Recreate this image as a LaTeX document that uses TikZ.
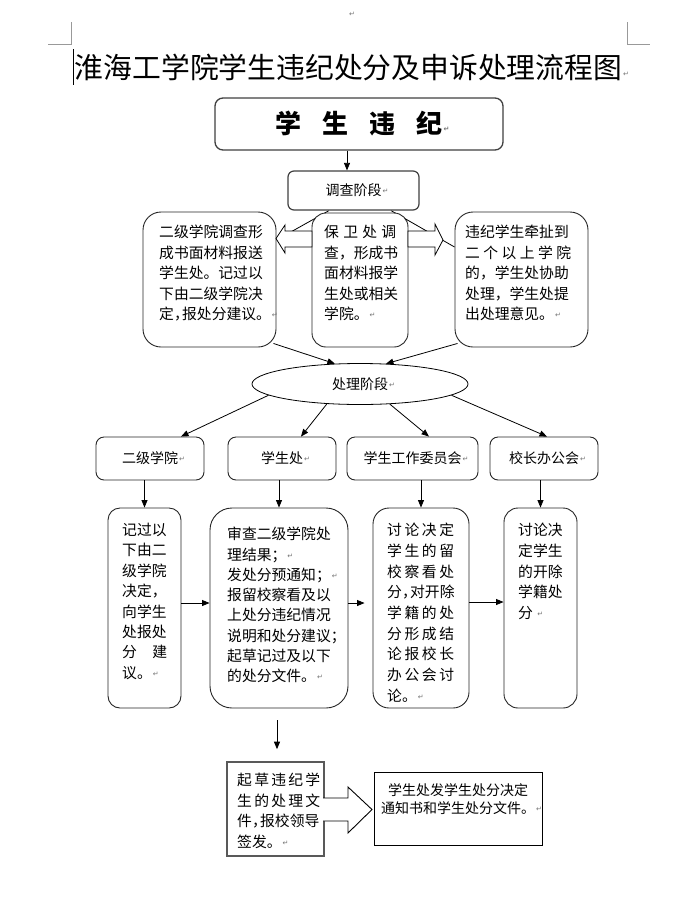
\documentclass[tikz,border=0pt]{standalone}
\usepackage{fontspec}
\newfontfamily\cjk{Noto Sans CJK SC}
\newfontfamily\dvs{DejaVu Sans}
\usetikzlibrary{shapes.geometric,arrows.meta,calc}
\pgfdeclarelayer{bg}
\pgfsetlayers{bg,main}
\newcommand\rtm{{\dvs\fontsize{7}{7}\selectfont\color{black!55}↵}}
\newcommand\rt{\rlap{\kern1pt\raisebox{2pt}{\rtm}}}
\newcommand\hw[1]{#1\kern-0.45em}
\newcommand\fs[2]{\makebox[#1][l]{#2}}
\begin{document}
\begin{tikzpicture}[x=1pt,y=-1pt,
  arr/.style={-{Triangle[length=7.5pt,width=6pt]},line width=0.8pt},
  rbox/.style={draw=black!85,line width=0.9pt,fill=white,rounded corners=#1,inner sep=0pt},
  sbox/.style={draw,fill=white,inner sep=0pt},
  txt/.style={anchor=north west,inner sep=0pt,align=left,font=\cjk\fontsize{14.8}{20.5}\selectfont},
  lbl/.style={font=\cjk\fontsize{14}{16}\selectfont},
  pagemark/.style={draw=black!40,line width=0.8pt}
]
\useasboundingbox (0,0) rectangle (684,914);

% page corner marks and cursor
\draw[pagemark] (71,22) -- (71,44) -- (48,44);
\draw[pagemark] (627,22) -- (627,44) -- (650,44);
\node[inner sep=0pt] (topmark) at (352,14) {\rtm};
\node[inner sep=0pt,font=\cjk\fontsize{28.8}{30}\selectfont] (title) at (348.5,67) {淮海工学院学生违纪处分及申诉处理流程图\rt};
\draw[line width=1.8pt] (73.5,49) -- (73.5,85);

% top box
\node[rbox=8,draw=black!75,line width=1.3pt,minimum width=288pt,minimum height=52pt,
      font=\cjk\bfseries\fontsize{26}{26}\selectfont] (b0) at (359,124)
      {学\hspace{21pt}生\hspace{21pt}违\hspace{21pt}纪\rt};
\node[rbox=6,draw=black!75,line width=1.2pt,minimum width=131pt,minimum height=39pt,lbl] (inv) at (353.5,190.5) {调查阶段\rt};
\draw[arr] (b0.south -| 347,0) -- (inv.north -| 347,0);

% investigation boxes
\node[rbox=18,minimum width=133pt,minimum height=135pt] (tl) at (209.5,279.5) {};
\node[rbox=14,minimum width=96pt,minimum height=134pt] (tm) at (360,280) {};
\node[rbox=18,minimum width=133pt,minimum height=135pt] (tr) at (521.5,279.5) {};
\node[txt] (tlt) at (159,225) {二级学院调查形\\成书面材料报送\\学生处。记过以\\下由二级学院决\\定\hw{，}报处分建议。\rt};
\node[txt] (tmt) at (324,225) {\fs{72pt}{保\hfill 卫\hfill 处\hfill 调}\\查，形成书\\面材料报学\\生处或相关\\学院。\rt};
\node[txt] (trt) at (465,225) {违纪学生牵扯到\\\fs{106pt}{二\hfill 个\hfill 以\hfill 上\hfill 学\hfill 院}\\的，学生处协助\\处理，学生处提\\出处理意见。\rt};

\begin{pgfonlayer}{bg}
\draw[line width=0.8pt] (inv.south -| 329,0) -- (tl.east |- 0,240);
\draw[line width=0.8pt] (inv.south -| 391,0) -- (tr.west |- 0,247);
\end{pgfonlayer}

% hollow block arrows
\draw[line width=0.8pt,fill=white] (312,231) -- (285,231) -- (285,225) -- (276,238.5) -- (285,253) -- (285,247) -- (312,247) -- cycle;
\draw[line width=0.8pt,fill=white] (408,231) -- (435,231) -- (435,224) -- (443,240) -- (435,255) -- (435,247) -- (408,247) -- cycle;

% processing stage
\node[ellipse,draw,line width=0.8pt,fill=white,minimum width=216pt,minimum height=41pt,inner sep=0pt,lbl] (ell) at (360,384) {处理阶段\rt};
\draw[arr] ($(tl.south east)+(-3,-4)$) -- (ell.141);
\draw[arr] ($(tr.south west)+(3,-4)$) -- (ell.38);

% row 2
\node[rbox=8,minimum width=108pt,minimum height=43pt,lbl] (r2a) at (150,458.5) {二级学院\rt};
\node[rbox=8,minimum width=108pt,minimum height=43pt,lbl] (r2b) at (282,458.5) {学生处\rt};
\node[rbox=8,minimum width=131pt,minimum height=43pt,lbl] (r2c) at (412.5,458.5) {学生工作委员会\rt};
\node[rbox=8,minimum width=108pt,minimum height=43pt,lbl] (r2d) at (544,458.5) {校长办公会\rt};
\draw[arr] (ell.187) -- ($(r2a.north)+(31,0)$);
\draw[arr] (ell.211) -- ($(r2b.north)+(19,0)$);
\draw[arr] (ell.326) -- ($(r2c.north)+(16.5,0)$);
\draw[arr] (ell.353) -- ($(r2d.north)+(3,0)$);

% row 3
\node[rbox=12,minimum width=73pt,minimum height=200pt] (r3a) at (144.5,608) {};
\node[rbox=22,minimum width=138pt,minimum height=200pt] (r3b) at (279,608) {};
\node[rbox=16,minimum width=96pt,minimum height=200pt] (r3c) at (421,608) {};
\node[rbox=14,minimum width=73pt,minimum height=200pt] (r3d) at (540.5,608) {};
\node[txt,font=\cjk\fontsize{14.8}{20.4}\selectfont] (r3at) at (122,523) {记过以\\下由二\\级学院\\决定，\\向学生\\处报处\\\fs{45pt}{分\hfill 建}\\议。\rt};
\node[txt,font=\cjk\fontsize{14.8}{20.3}\selectfont] (r3bt) at (227,527) {审查二级学院处\\理结果；\rt\\发处分预通知；\rt\\报留校察看及以\\上处分违纪情况\\说明和处分建议\hw{；}\\起草记过及以下\\的处分文件。\rt};
\node[txt,font=\cjk\fontsize{14.8}{20.7}\selectfont] (r3ct) at (387,523) {\fs{67pt}{讨\hfill 论\hfill 决\hfill 定}\\\fs{67pt}{学\hfill 生\hfill 的\hfill 留}\\\fs{67pt}{校\hfill 察\hfill 看\hfill 处}\\分\hw{，}对开除\\\fs{67pt}{学\hfill 籍\hfill 的\hfill 处}\\\fs{67pt}{分\hfill 形\hfill 成\hfill 结}\\\fs{67pt}{论\hfill 报\hfill 校\hfill 长}\\\fs{67pt}{办\hfill 公\hfill 会\hfill 讨}\\论。\rt};
\node[txt,font=\cjk\fontsize{14.8}{20.7}\selectfont] (r3dt) at (518,523) {讨论决\\定学生\\的开除\\学籍处\\分\ \rt};
\foreach \a/\b in {r2a/r3a,r2b/r3b,r2c/r3c,r2d/r3d}
  \draw[arr] (\b.north |- \a.south) -- (\b.north);
\draw[arr] (r3a.east |- 0,603) -- (r3b.west |- 0,603);
\draw[arr,shorten >=8pt] (r3b.east |- 0,603) -- (r3c.west |- 0,603);
\draw[arr] (r3c.east |- 0,602) -- (r3d.west |- 0,602);

% bottom
\node[sbox,draw=black!65,line width=1.6pt,minimum width=97pt,minimum height=94pt] (b5) at (275.5,809) {};
\node[sbox,line width=0.8pt,minimum width=168pt,minimum height=73pt] (b6) at (458,808.5) {};
\node[txt,font=\cjk\fontsize{14.8}{20.5}\selectfont] (b5t) at (237,773) {\fs{83pt}{起\hfill 草\hfill 违\hfill 纪\hfill 学}\\\fs{83pt}{生\hfill 的\hfill 处\hfill 理\hfill 文}\\件\hw{，}报校领导\\签发。\rt};
\node[anchor=north,inner sep=0pt,align=center,font=\cjk\fontsize{14}{18}\selectfont] (b6t) at (458,783) {学生处发学生处分决定\\通知书和学生处分文件。\rt};
\coordinate (d0) at (277,720);
\draw[arr,shorten >=12pt] (d0) -- (d0 |- b5.north);
\fill[white] (322,798) -- (348,798) -- (348,787) -- (372,809.5) -- (348,833) -- (348,821) -- (322,821) -- cycle;
\draw[line width=0.9pt] (323.2,798) -- (348,798) -- (348,787) -- (372,809.5) -- (348,833) -- (348,821) -- (323.2,821);
\end{tikzpicture}
\end{document}
